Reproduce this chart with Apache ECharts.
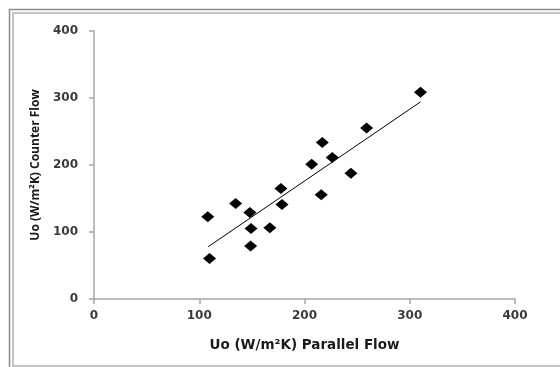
<!DOCTYPE html>
<html>
<head>
<meta charset="utf-8">
<script src="https://cdn.jsdelivr.net/npm/echarts@6/dist/echarts.min.js"></script>
<style>
html,body{margin:0;padding:0;background:#fff;}
#chart{width:560px;height:367px;}
</style>
</head>
<body>
<div id="chart"></div>
<script>
// Data
const parallelFlow = [108.1, 109.8, 134.6, 148.1, 149.2, 148.8, 167.1, 177.6, 178.6, 206.8, 216.9, 215.9, 226.4, 244.1, 259.0, 310.2];
const counterFlow  = [122.7, 60.6, 142.6, 129.2, 105.3, 79.0, 106.3, 165.0, 141.1, 201.2, 233.5, 155.5, 211.2, 187.8, 255.4, 308.6];
// Linear trendline endpoints
const trendX = [108.5, 310.2];
const trendY = [78.0, 294.2];
const xTicks = [0, 100, 200, 300, 400];
const yTicks = [0, 100, 200, 300, 400];
const xTitle = 'Uo (W/m²K) Parallel Flow';
const yTitle = 'Uo (W/m²K) Counter Flow';

const points = parallelFlow.map((x, i) => [x, counterFlow[i]]);
const trend = trendX.map((x, i) => [x, trendY[i]]);

const chart = echarts.init(document.getElementById('chart'), null, {renderer: 'canvas'});
const axisCommon = {
  type: 'value',
  min: 0, max: 400, interval: 100,
  splitLine: {show: false},
  axisLine: {show: true, lineStyle: {color: '#a6a6a6', width: 1.5}},
  axisTick: {show: true, length: 5, lineStyle: {color: '#a6a6a6', width: 1.5}},
  axisLabel: {fontFamily: 'DejaVu Sans', fontSize: 12, fontWeight: 'bold', color: '#3a3a3a'},
  nameLocation: 'middle'
};
chart.setOption({
  animation: false,
  backgroundColor: '#fff',
  grid: {left: 94, right: 45, top: 31, bottom: 68},
  graphic: [
    {type: 'rect', shape: {x: 9.5, y: 9.5, width: 600, height: 360}, style: {fill: 'none', stroke: '#8c8c8c', lineWidth: 1.5}, silent: true},
    {type: 'rect', shape: {x: 13, y: 13, width: 600, height: 353}, style: {fill: 'none', stroke: '#c4c4c4', lineWidth: 2}, silent: true}
  ],
  xAxis: Object.assign({}, axisCommon, {
    name: xTitle,
    nameGap: 39,
    nameTextStyle: {fontFamily: 'DejaVu Sans', fontSize: 13.5, fontWeight: 'bold', color: '#1a1a1a'},
    axisLabel: Object.assign({}, axisCommon.axisLabel, {margin: 11,
      formatter: v => xTicks.includes(v) ? String(v) : ''})
  }),
  yAxis: Object.assign({}, axisCommon, {
    name: yTitle,
    nameGap: 52,
    nameRotate: 90,
    nameTextStyle: {fontFamily: 'Open Sans', fontSize: 12, fontWeight: 'bold', color: '#1a1a1a'},
    axisLabel: Object.assign({}, axisCommon.axisLabel, {margin: 16,
      formatter: v => yTicks.includes(v) ? String(v) : ''})
  }),
  series: [
    {
      type: 'scatter',
      data: points,
      symbol: 'diamond',
      symbolSize: [13, 11],
      itemStyle: {color: '#000', opacity: 1},
      z: 3
    },
    {
      type: 'line',
      data: trend,
      showSymbol: false,
      symbol: 'none',
      lineStyle: {color: '#000', width: 1},
      z: 2
    }
  ]
});
</script>
</body>
</html>
